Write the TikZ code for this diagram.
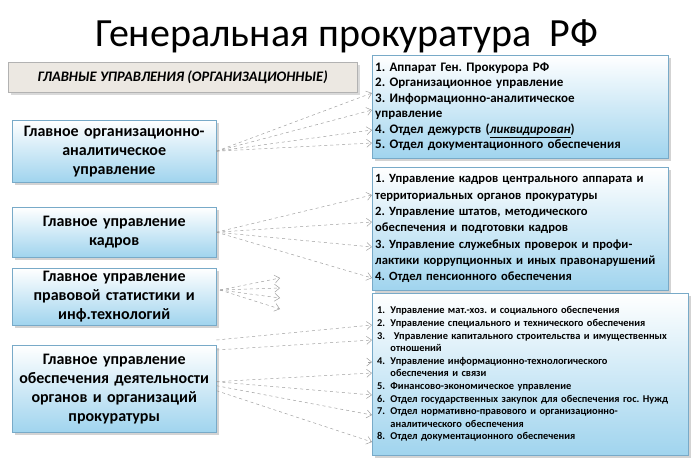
\documentclass[tikz,border=0pt]{standalone}
\usepackage{fontspec}
\setmainfont{Carlito}
\usetikzlibrary{arrows.meta,shadows}
\definecolor{boxblue}{RGB}{160,212,238}
\definecolor{boxedge}{RGB}{120,170,200}
\definecolor{headfill}{RGB}{236,232,226}
\frenchspacing
\tikzstyle{box}=[draw=boxedge, top color=white, bottom color=boxblue, drop shadow={opacity=0.35}, anchor=north west, inner sep=3pt]
\tikzstyle{lbox}=[box, font=\bfseries\fontsize{16}{19}\selectfont, align=center, minimum width=202pt, text width=198pt]
\tikzstyle{rbox}=[box, font=\bfseries\fontsize{13}{15.5}\selectfont, align=left]
\tikzstyle{link}=[draw=gray!75, dashed, -{Straight Barb[length=5pt,width=8pt]}, line width=0.5pt]
\begin{document}
\begin{tikzpicture}[x=1pt, y=-1pt]
        \useasboundingbox (0, 0) rectangle (694, 464);
        \node[font=\fontsize{40}{42}\selectfont] (title) at (347, 36) {Генеральная прокуратура~~РФ};
        \node[draw=gray!60, fill=headfill, drop shadow={opacity=0.3}, anchor=north west, minimum width=349pt, minimum height=30pt, font=\bfseries\itshape\fontsize{14.5}{16}\selectfont] (head) at (8, 62) {ГЛАВНЫЕ УПРАВЛЕНИЯ (ОРГАНИЗАЦИОННЫЕ)};
        \node[lbox, minimum height=62pt] (orgA) at (12, 120) {Главное организационно-\\аналитическое\\управление};
        \node[lbox, minimum height=50pt] (kadr) at (12, 207) {Главное управление\\кадров};
        \node[lbox, minimum height=55pt] (stat) at (12, 268) {Главное управление\\правовой статистики и\\инф.технологий};
        \node[lbox, minimum height=87pt] (obes) at (12, 345) {Главное управление\\обеспечения деятельности\\органов и организаций\\прокуратуры};
        \node[rbox, minimum width=296pt, minimum height=103pt, text width=290pt] (listA) at (372, 55) {1. Аппарат Ген. Прокурора РФ\\2. Организационное управление\\3. Информационно-аналитическое\\управление\\4. Отдел дежурств (\textit{\underline{ликвидирован}})\\5. Отдел документационного обеспечения};
        \node[rbox, minimum width=296pt, minimum height=123pt, text width=290pt, font=\bfseries\fontsize{12.6}{16.3}\selectfont] (listB) at (372, 167) {1. Управление кадров центрального аппарата и\\территориальных органов прокуратуры\\2. Управление штатов, методического\\обеспечения и подготовки кадров\\3. Управление служебных проверок и профи-\\лактики коррупционных и иных правонарушений\\4. Отдел пенсионного обеспечения};
        \node[box, minimum width=316pt, minimum height=162pt, text width=306pt, font=\bfseries\fontsize{10.4}{12.6}\selectfont, align=left] (listC) at (372, 293) {%
            1.\enspace Управление мат.-хоз. и социального обеспечения\\
            2.\enspace Управление специального и технического обеспечения\\
            3.\enspace\ Управление капитального строительства и имущественных\\
            \phantom{3.}\enspace отношений\\
            4.\enspace Управление информационно-технологического\\
            \phantom{4.}\enspace обеспечения и связи\\
            5.\enspace Финансово-экономическое управление\\
            6.\enspace Отдел государственных закупок для обеспечения гос. Нужд\\
            7.\enspace Отдел нормативно-правового и организационно-\\
            \phantom{7.}\enspace аналитического обеспечения\\
            8.\enspace Отдел документационного обеспечения};
        % links from the organisational department
        \foreach \ty in {93, 110, 130, 143}
            \draw[link] (orgA.east) -- (listA.west |- 0, \ty);
        % links from personnel
        \foreach \ty in {195, 222, 247, 278}
            \draw[link] (kadr.east) -- (listB.west |- 0, \ty);
        % statistics: short arrows
        \coordinate (statOut) at (220, 290);
        \foreach \ty in {278, 288, 298, 309}
            \draw[link] (statOut) -- (280, \ty);
        % links from support department
        \coordinate (loose) at (368, 362);
        \draw[link] (obes.north east) ++(0, -5) -- (listC.west |- 0, 325);
        \draw[link] (obes.north east) ++(0, 5) -- (listC.west |- 0, 340);
        \draw[link] (loose) -- (listC.west |- loose);
        \draw[link] (obes.east) ++(0, -7) -- (listC.west |- 0, 373);
        \draw[link] (obes.east) ++(0, -7) -- (listC.west |- 0, 395);
        \draw[link] (obes.east) ++(0, -3) -- (listC.west |- 0, 415);
        \draw[link] (obes.east) ++(0, 2) -- (listC.west |- 0, 442);
    \end{tikzpicture}
\end{document}
